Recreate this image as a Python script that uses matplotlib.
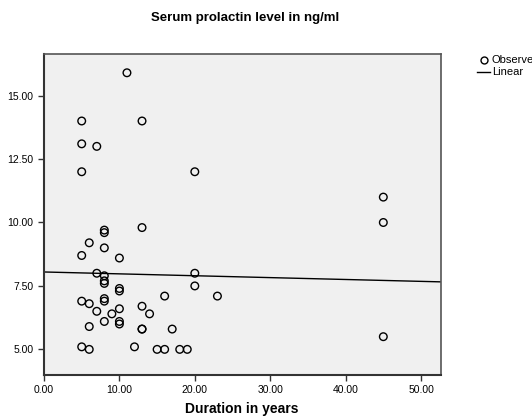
import matplotlib
matplotlib.use("Agg")
import matplotlib.pyplot as plt
from matplotlib.lines import Line2D

plt.rcParams['font.family'] = ['Liberation Sans', 'DejaVu Sans']

# Observed values (duration in years, serum prolactin ng/ml)
duration = [11, 5, 13, 5, 7, 5, 20, 13,
            8, 8, 6, 8, 5, 10, 7, 8, 8, 8, 10, 10,
            5, 6, 8, 8, 7, 10, 13, 9, 14, 8, 10, 10, 6,
            13, 13, 17, 5, 6, 12, 15, 16, 18, 19, 20, 20,
            16, 23, 45, 45, 45]
prolactin = [15.9, 14.0, 14.0, 13.1, 13.0, 12.0, 12.0, 9.8,
             9.7, 9.6, 9.2, 9.0, 8.7, 8.6, 8.0, 7.9, 7.7, 7.6, 7.4, 7.3,
             6.9, 6.8, 7.0, 6.9, 6.5, 6.6, 6.7, 6.4, 6.4, 6.1, 6.1, 6.0, 5.9,
             5.8, 5.8, 5.8, 5.1, 5.0, 5.1, 5.0, 5.0, 5.0, 5.0, 8.0, 7.5,
             7.1, 7.1, 11.0, 10.0, 5.5]

# Linear fit
intercept = 8.05
slope = -0.0074

x_ticks = [0, 10, 20, 30, 40, 50]
y_ticks = [5, 7.5, 10, 12.5, 15]

fig = plt.figure(figsize=(5.32, 4.17), dpi=100)
ax = fig.add_axes([44 / 532, 1 - 375 / 417, (441 - 44) / 532, (375 - 54) / 417])
ax.set_facecolor('#f0f0f0')

xmin, xmax = 0, 52.65
ax.scatter(duration, prolactin, s=30, facecolors='none', edgecolors='black',
           linewidths=1.0, zorder=3)
ax.plot([xmin, xmax], [intercept + slope * xmin, intercept + slope * xmax],
        color='black', linewidth=1.0, zorder=2)

ax.set_xlim(xmin, xmax)
ax.set_ylim(3.99, 16.64)
ax.set_xticks(x_ticks)
ax.set_xticklabels([f"{v:.2f}" for v in x_ticks])
ax.set_yticks(y_ticks)
ax.set_yticklabels([f"{v:.2f}" for v in y_ticks])
ax.tick_params(direction='out', length=4, width=1, labelsize=7.5,
               colors='#333333', labelcolor='black')

for side in ['left', 'bottom']:
    ax.spines[side].set_linewidth(1.5)
    ax.spines[side].set_color('#333333')
for side in ['top', 'right']:
    ax.spines[side].set_linewidth(1.2)
    ax.spines[side].set_color('#555555')

fig.text(242 / 532, 1 - 409 / 417, "Duration in years",
         ha='center', va='center', fontsize=10, fontweight='bold')
fig.text(245 / 532, 1 - 18 / 417, "Serum prolactin level in ng/ml",
         ha='center', va='center', fontsize=9.5, fontweight='bold')

# legend outside on the right (cut off by the figure edge, as in the original)
fig.add_artist(Line2D([484 / 532], [1 - 60 / 417], marker='o', markersize=5,
                      markerfacecolor='none', markeredgecolor='black',
                      linestyle='none', transform=fig.transFigure))
fig.add_artist(Line2D([477 / 532, 490 / 532], [1 - 72 / 417, 1 - 72 / 417],
                      color='black', linewidth=1.0, transform=fig.transFigure))
fig.text(492 / 532, 1 - 60 / 417, "Observed", fontsize=8, va='center', ha='left')
fig.text(492 / 532, 1 - 72 / 417, "Linear", fontsize=8, va='center', ha='left')

fig.savefig("out.png", dpi=100)
